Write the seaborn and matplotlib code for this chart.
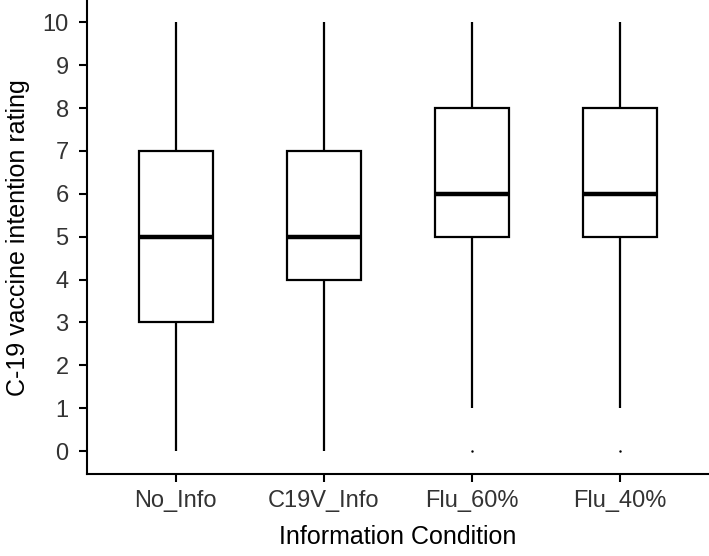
import matplotlib
matplotlib.use("Agg")
import matplotlib.pyplot as plt
import seaborn as sns
import pandas as pd

# ratings per condition (chosen so the box stats match the chart)
conditions = ["No_Info", "C19V_Info", "Flu_60%", "Flu_40%"]
no_info = [0, 3, 5, 7, 10]
c19v_info = [0, 4, 5, 7, 10]
flu_60 = [0, 1, 5, 5, 6, 7, 8, 9, 10]
flu_40 = [0, 1, 5, 5, 6, 7, 8, 9, 10]

rows = []
for cond, vals in zip(conditions, [no_info, c19v_info, flu_60, flu_40]):
    for v in vals:
        rows.append({"Information Condition": cond, "rating": v})
df = pd.DataFrame(rows)

sns.set_style("ticks")
plt.rcParams["font.family"] = ["Liberation Sans", "DejaVu Sans"]

fig = plt.figure(figsize=(7.09, 5.56), dpi=100)
ax = fig.add_axes([0.1223, 0.147, 0.8777, 0.853])

sns.boxplot(data=df, x="Information Condition", y="rating", order=conditions,
            width=0.5, showcaps=False, ax=ax,
            boxprops=dict(facecolor="white", edgecolor="black", linewidth=1.6),
            whiskerprops=dict(color="black", linewidth=1.6),
            medianprops=dict(color="black", linewidth=3.2),
            flierprops=dict(marker=".", markersize=1.5, markerfacecolor="black",
                            markeredgecolor="black"))

ax.set_xlim(-0.6, 3.6)
ax.set_ylim(-0.54, 10.52)
ax.set_yticks(range(0, 11))
ax.set_ylabel("C-19 vaccine intention rating", fontsize=18, color="black", labelpad=9)
ax.set_xlabel("Information Condition", fontsize=18, color="black", labelpad=10)
ax.tick_params(axis="both", which="major", labelsize=17, labelcolor="#333333",
               length=6, width=1.5, color="black", direction="out", pad=5)
ax.tick_params(axis="y", pad=7)

sns.despine(ax=ax)
for s in ["left", "bottom"]:
    ax.spines[s].set_color("black")
    ax.spines[s].set_linewidth(1.5)

fig.savefig("out.png", dpi=100)
